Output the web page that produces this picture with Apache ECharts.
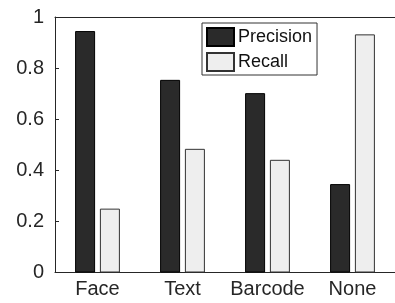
<!DOCTYPE html>
<html><head><meta charset="utf-8">
<script src="https://cdn.jsdelivr.net/npm/echarts@6/dist/echarts.min.js"></script>
<style>html,body{margin:0;padding:0;background:#fff}#c{width:395px;height:303px}</style>
</head><body><div id="c"></div>
<script>
const categories = ['Face', 'Text', 'Barcode', 'None'];
const precision = [0.945, 0.754, 0.702, 0.346];
const recall = [0.25, 0.484, 0.441, 0.932];
const yTicks = [0, 0.2, 0.4, 0.6, 0.8, 1];

const chart = echarts.init(document.getElementById('c'), null, {renderer: 'canvas'});
const font = 'Liberation Sans, Arial, Helvetica, sans-serif';
const axisColor = '#262626';
chart.setOption({
  animation: false,
  textStyle: {fontFamily: font},
  grid: {left: 55, top: 17, bottom: 30.5, width: 345, containLabel: false},
  legend: {
    orient: 'vertical', left: 202, top: 23,
    padding: [4, 5, 3, 4],
    icon: 'rect',
    itemWidth: 27, itemHeight: 18, itemGap: 5,
    borderColor: '#333', borderWidth: 1, backgroundColor: '#fff',
    textStyle: {fontSize: 18, color: '#111', fontFamily: font, padding: [0, 0, 0, -1]},
    data: ['Precision', 'Recall']
  },
  xAxis: [{
    type: 'category', data: categories, position: 'bottom',
    axisLine: {lineStyle: {color: axisColor, width: 1}},
    axisTick: {inside: true, alignWithLabel: true, length: 3, lineStyle: {color: axisColor}},
    axisLabel: {fontSize: 20, color: '#262626', margin: 7, fontFamily: font, interval: 0}
  }, {
    type: 'category', data: categories, position: 'top',
    axisLine: {lineStyle: {color: axisColor, width: 1}},
    axisTick: {inside: true, alignWithLabel: true, length: 3, lineStyle: {color: axisColor}},
    axisLabel: {show: false}
  }],
  yAxis: {
    type: 'value', min: 0, max: 1, interval: 0.2,
    axisLine: {show: true, lineStyle: {color: axisColor, width: 1}},
    axisTick: {show: true, inside: true, length: 4, lineStyle: {color: axisColor}},
    splitLine: {show: false},
    axisLabel: {fontSize: 20, color: '#262626', margin: 11, fontFamily: font,
      formatter: v => yTicks.includes(+v.toFixed(1)) ? String(+v.toFixed(1)) : ''}
  },
  series: [{
    name: 'Precision', type: 'bar', data: precision, barWidth: 20, barGap: '24%',
    itemStyle: {color: '#2a2a2a', borderColor: '#000', borderWidth: 1}
  }, {
    name: 'Recall', type: 'bar', data: recall, barWidth: 20,
    itemStyle: {color: '#eeeeee', borderColor: '#333', borderWidth: 1}
  }]
});
</script></body></html>
